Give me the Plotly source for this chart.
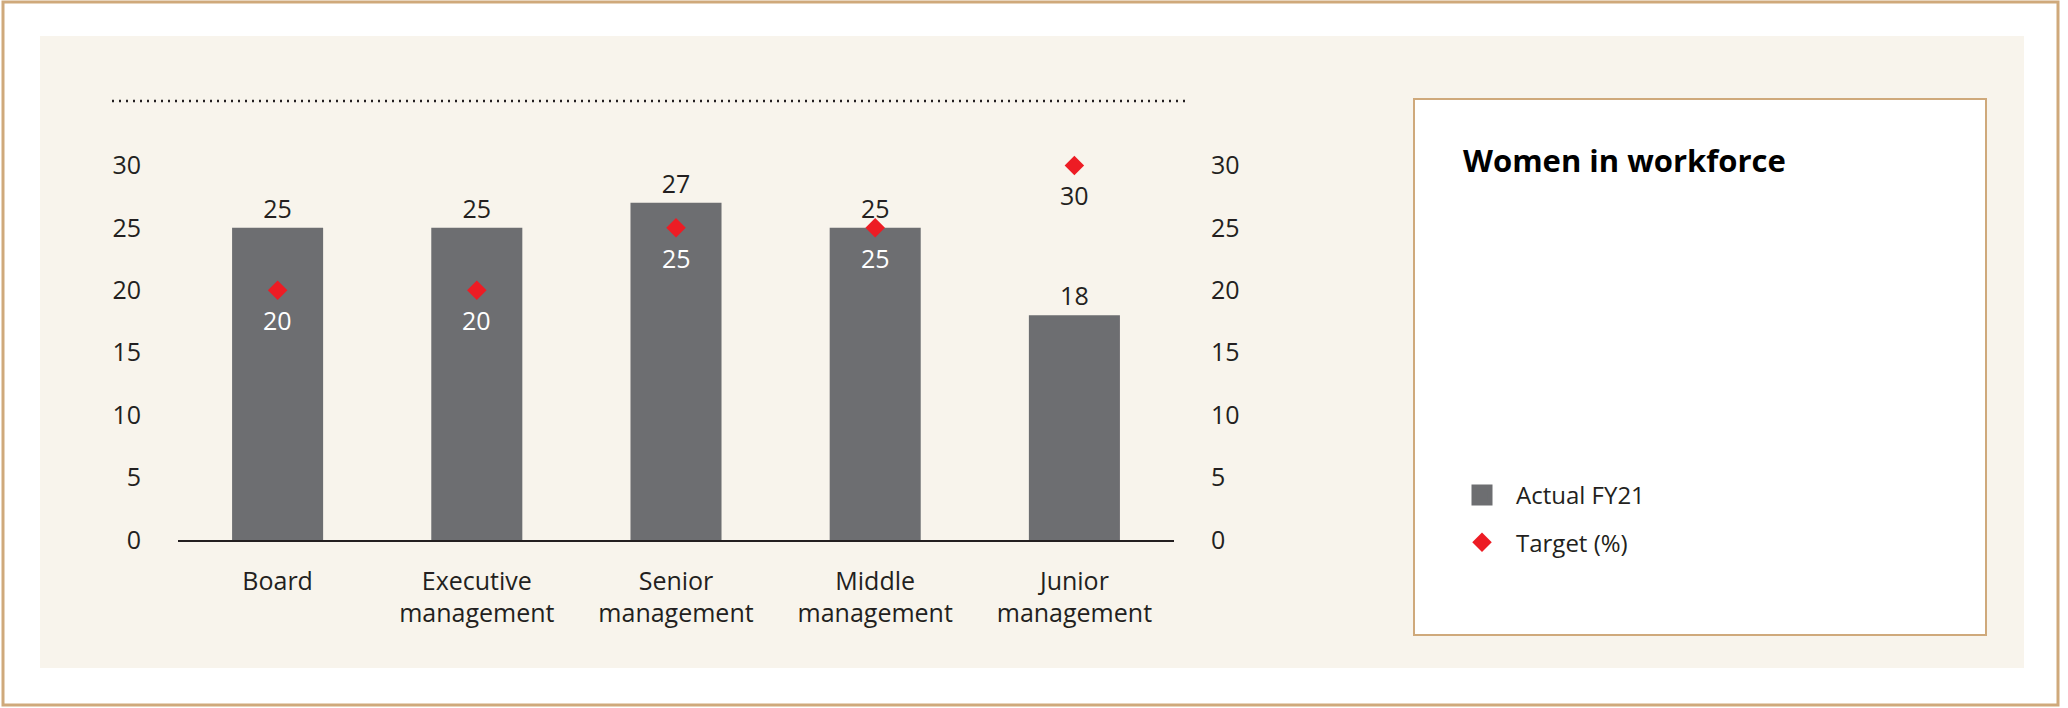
import plotly.graph_objects as go

categories = ["Board", "Executive<br>management", "Senior<br>management", "Middle<br>management", "Junior<br>management"]
actual_fy21 = [25, 25, 27, 25, 18]
target_pct = [20, 20, 25, 25, 30]
target_label_colors = ["white", "white", "white", "white", "#231f20"]
y_ticks = [0, 5, 10, 15, 20, 25, 30]

W, H = 2068, 708
def px(x):
    return x / W
def py(y):
    return 1 - y / H

FONT = "Open Sans, sans-serif"
TAN = "#cfa97b"
BEIGE = "#f8f4ec"
GREY = "#6d6e71"
RED = "#ed1c24"
INK = "#231f20"

fig = go.Figure()

fig.add_trace(go.Bar(
    x=categories, y=actual_fy21, name="Actual FY21",
    marker=dict(color=GREY, line=dict(width=0)),
    text=[str(v) for v in actual_fy21], textposition="outside",
    textfont=dict(family=FONT, size=25, color=INK),
    cliponaxis=False, showlegend=False,
))
# legend swatch for the bars (larger square than the default bar swatch)
fig.add_trace(go.Scatter(
    x=[None], y=[None], name="Actual FY21", mode="markers",
    marker=dict(symbol="square", size=16, color=GREY, line=dict(color=GREY, width=5)),
    legendgroup="a",
))
fig.add_trace(go.Scatter(
    x=categories, y=target_pct, name="Target (%)", mode="markers",
    marker=dict(symbol="diamond", size=15, color=RED, line=dict(width=0)),
    cliponaxis=False, legendgroup="b",
))
# right-hand axis carrier (invisible)
fig.add_trace(go.Scatter(x=categories, y=actual_fy21, yaxis="y2", mode="markers",
                         marker=dict(opacity=0), showlegend=False, hoverinfo="skip"))

shapes = [
    dict(type="rect", xref="paper", yref="paper", x0=px(3), x1=px(2058), y0=py(705), y1=py(2),
         line=dict(color=TAN, width=3), fillcolor="white", layer="below"),
    dict(type="rect", xref="paper", yref="paper", x0=px(40), x1=px(2024), y0=py(668), y1=py(36),
         line=dict(width=0), fillcolor=BEIGE, layer="below"),
    dict(type="rect", xref="paper", yref="paper", x0=px(1414), x1=px(1986), y0=py(635), y1=py(99),
         line=dict(color=TAN, width=2), fillcolor="white", layer="below"),
    dict(type="line", xref="paper", yref="paper", x0=px(112), x1=px(1187), y0=py(101), y1=py(101),
         line=dict(color=INK, width=2.5, dash="2px,5px"), layer="below"),
]

annotations = [dict(text="<b>Women in workforce</b>", xref="paper", yref="paper",
                    x=px(1461), y=py(160), xanchor="left", yanchor="middle", showarrow=False,
                    font=dict(family=FONT, size=31, color="black"))]
for cat, val, col in zip(categories, target_pct, target_label_colors):
    annotations.append(dict(text=str(val), x=cat, y=val, xref="x", yref="y",
                            yshift=-30, yanchor="middle", xanchor="center", showarrow=False,
                            font=dict(family=FONT, size=25, color=col)))

fig.update_layout(
    width=W, height=H, autosize=False,
    margin=dict(l=0, r=0, t=0, b=0, autoexpand=False),
    paper_bgcolor="white", plot_bgcolor="rgba(0,0,0,0)",
    shapes=shapes, annotations=annotations,
    bargap=0.543,
    font=dict(family=FONT, size=24, color=INK),
    xaxis=dict(domain=[px(178), px(1174)], range=[-0.5, 4.5], showgrid=False, automargin=False,
               showline=True, linecolor=INK, linewidth=1.5, ticks="",
               tickfont=dict(family=FONT, size=25, color=INK), ticklabelstandoff=18),
    yaxis=dict(domain=[py(540), py(165.4)], range=[0, 30], tickvals=y_ticks, automargin=False,
               showgrid=False, zeroline=False, showline=False, ticks="",
               tickfont=dict(family=FONT, size=25, color=INK), ticklabelstandoff=36),
    yaxis2=dict(overlaying="y", side="right", range=[0, 30], tickvals=y_ticks, automargin=False,
                showgrid=False, zeroline=False, showline=False, ticks="",
                tickfont=dict(family=FONT, size=25, color=INK), ticklabelstandoff=36),
    legend=dict(x=px(1448), y=py(473), xanchor="left", yanchor="top",
                bgcolor="rgba(0,0,0,0)", font=dict(family=FONT, size=24, color=INK),
                traceorder="grouped", tracegroupgap=13, itemsizing="trace", itemwidth=58),
)

fig.write_html("out.html", config={"displayModeBar": False},
               post_script="document.body.style.margin='0';document.body.style.overflow='hidden';")
